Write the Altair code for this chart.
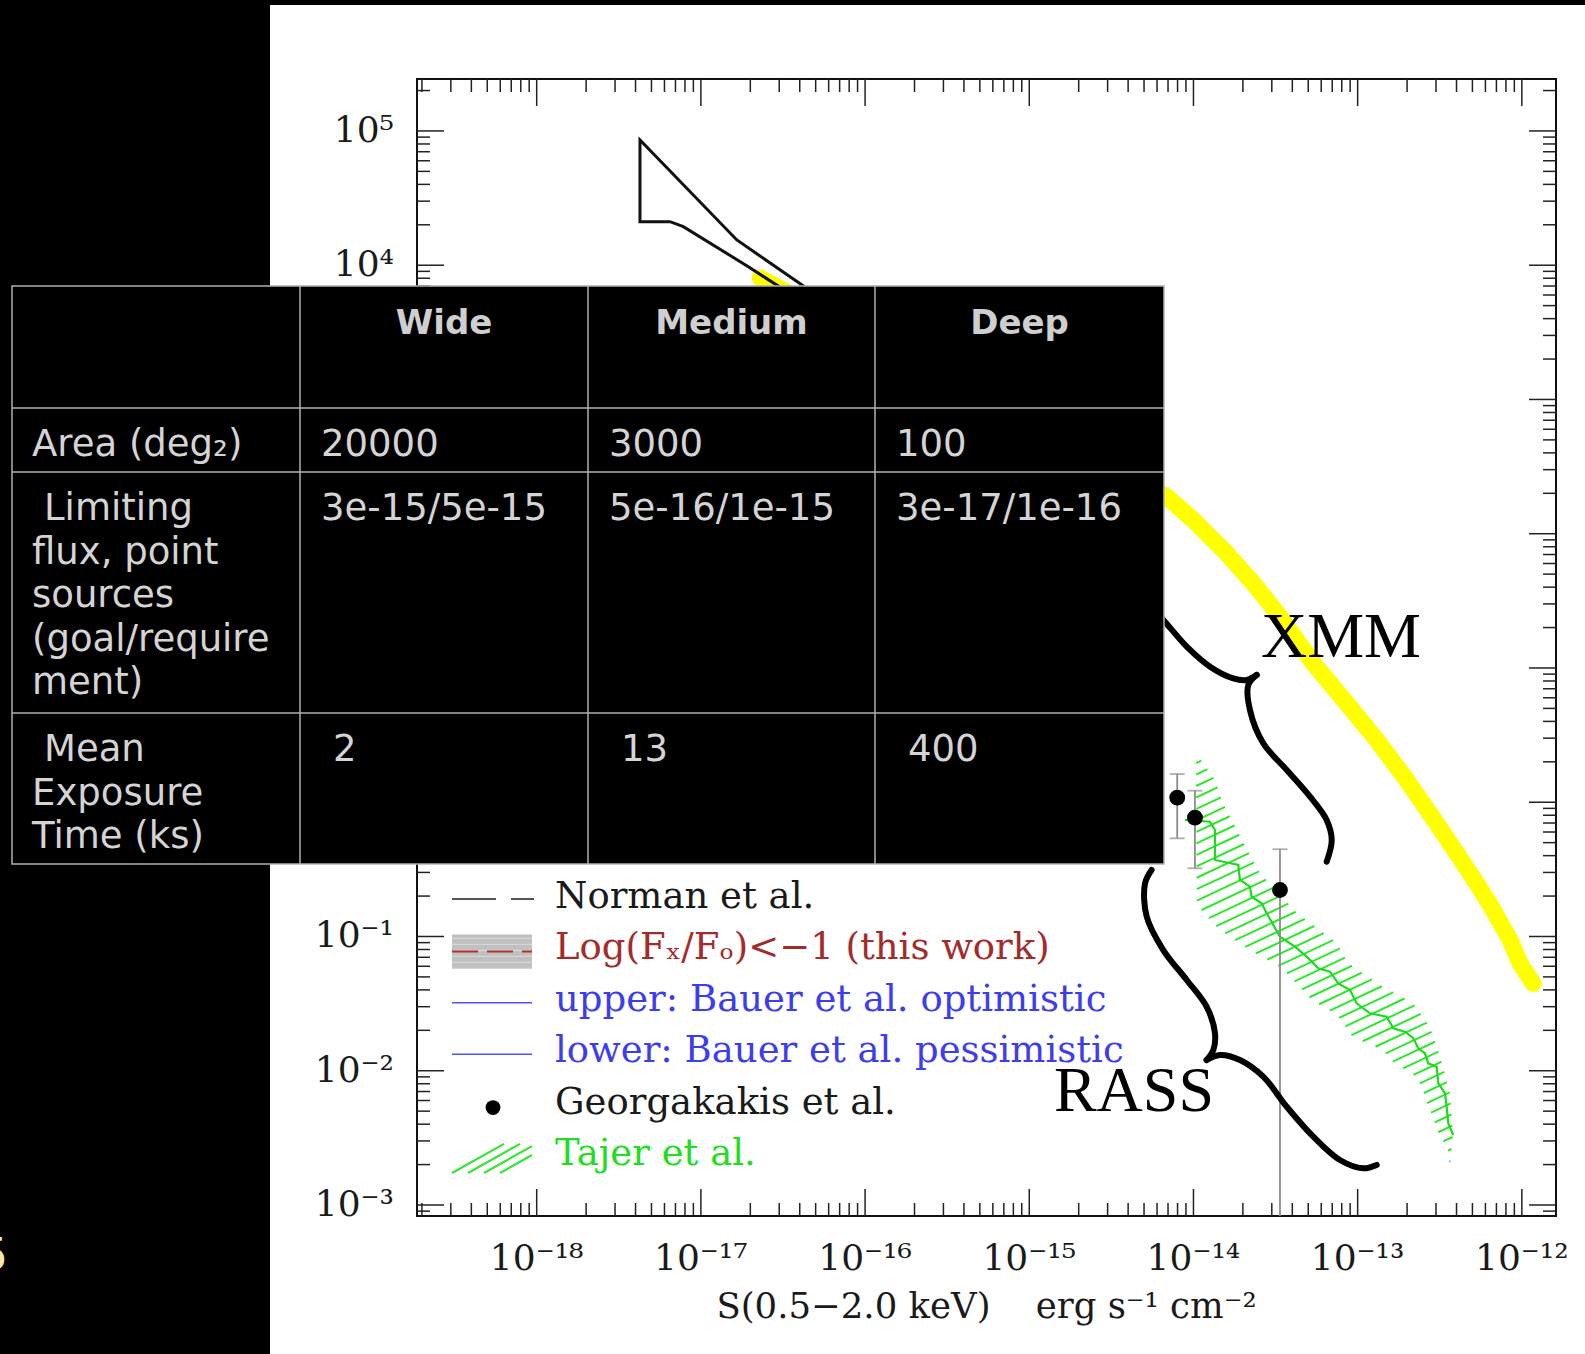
import altair as alt
import pandas as pd

# ------------------------------------------------------------------ layout
PLOT_W, PLOT_H = 1139, 1137
PAD_LEFT, PAD_TOP, PAD_RIGHT, PAD_BOTTOM = 417, 79, 29, 138

LOG_S_DOMAIN = [-18.729, -11.792]
LOG_N_DOMAIN = [-3.082, 5.387]

TICK_COLOR = "#222222"
MAJOR_TICK, MINOR_TICK = 27, 13

SERIF = "DejaVu Serif"
SANS = "DejaVu Sans"

# ------------------------------------------------------------------ axis text
x_tick_exponents = [-18, -17, -16, -15, -14, -13, -12]
x_tick_labels = ["10⁻¹⁸", "10⁻¹⁷", "10⁻¹⁶", "10⁻¹⁵", "10⁻¹⁴", "10⁻¹³", "10⁻¹²"]
y_tick_exponents = [-3, -2, -1, 0, 1, 2, 3, 4, 5]
y_tick_labels = ["10⁻³", "10⁻²", "10⁻¹", "10⁰", "10¹", "10²", "10³", "10⁴", "10⁵"]
x_title = "S(0.5−2.0 keV)    erg s⁻¹ cm⁻²"

# ------------------------------------------------------------------ series (log10 S, log10 N)
norman_log_s = [-16.092, -16.384, -16.664, -16.781, -17.371, -17.371, -17.188, -17.107, -16.711, -16.618, -16.396]
norman_log_n = [3.592, 3.853, 4.089, 4.188, 4.933, 4.324, 4.324, 4.287, 3.989, 3.915, 3.741]

xmm_log_s = [-16.639, -14.163, -14.001, -13.798, -13.636, -13.473, -13.270, -13.067, -12.884,
             -12.702, -12.519, -12.377, -12.275, -12.174, -12.072, -12.011, -11.931]
xmm_log_n = [3.905, 2.276, 2.102, 1.854, 1.631, 1.382, 1.035, 0.737, 0.464,
             0.166, -0.157, -0.415, -0.604, -0.803, -1.026, -1.200, -1.349]

tajer_upper_s = [-13.985, -13.869, -13.820, -13.705, -13.595, -13.370, -13.126, -13.059,
                 -12.846, -12.663, -12.560, -12.511, -12.480, -12.438, -12.420, -12.438]
tajer_upper_n = [0.367, 0.166, -0.006, -0.281, -0.527, -0.825, -1.048, -1.197,
                 -1.376, -1.495, -1.674, -1.845, -1.972, -2.166, -2.464, -2.717]
tajer_lower_s = [-13.985, -13.979, -13.839, -13.656, -13.461, -13.278, -13.126, -13.029, -12.846,
                 -12.785, -12.639, -12.602, -12.578, -12.541, -12.517, -12.450, -12.438]
tajer_lower_n = [0.367, -0.765, -0.952, -1.101, -1.235, -1.473, -1.585, -1.749, -1.845,
                 -1.935, -2.047, -2.143, -2.240, -2.345, -2.441, -2.590, -2.717]
tajer_mid_s = [-14.052, -13.900, -13.869, -13.869, -13.727, -13.717, -13.656, -13.646, -13.585,
               -13.554, -13.473, -13.382, -13.311, -13.240, -13.169, -13.118, -13.047, -13.006,
               -12.925, -12.823, -12.783, -12.712, -12.661, -12.631, -12.590, -12.570, -12.519,
               -12.509, -12.468, -12.458, -12.448, -12.418]
tajer_mid_n = [-0.132, -0.145, -0.207, -0.430, -0.467, -0.579, -0.629, -0.704, -0.753,
               -0.827, -1.002, -1.076, -1.150, -1.237, -1.262, -1.349, -1.399, -1.498,
               -1.572, -1.597, -1.684, -1.709, -1.758, -1.833, -1.870, -1.945, -1.970,
               -2.094, -2.168, -2.268, -2.392, -2.479]

geo_log_s = [-14.099, -13.991, -13.473]
geo_log_n = [0.034, -0.115, -0.654]
geo_log_lo = [-0.269, -0.492, -3.6]
geo_log_hi = [0.210, 0.086, -0.350]

# braces: each arm runs to the shared tip
xmm_arm1_s = [-14.265, -14.174, -14.041, -13.899, -13.758, -13.676, -13.615]
xmm_arm1_n = [1.469, 1.345, 1.159, 1.010, 0.923, 0.911, 0.948]
xmm_arm2_s = [-13.615, -13.666, -13.656, -13.575, -13.432, -13.290, -13.189, -13.158, -13.189]
xmm_arm2_n = [0.948, 0.873, 0.687, 0.439, 0.240, 0.041, -0.132, -0.281, -0.443]
rass_arm1_s = [-14.255, -14.295, -14.285, -14.184, -14.041, -13.920, -13.869, -13.879, -13.920]
rass_arm1_n = [-0.505, -0.604, -0.852, -1.101, -1.324, -1.523, -1.721, -1.845, -1.920]
rass_arm2_s = [-13.920, -13.839, -13.717, -13.575, -13.432, -13.270, -13.108, -12.966, -12.884]
rass_arm2_n = [-1.920, -1.883, -1.920, -2.044, -2.268, -2.491, -2.665, -2.727, -2.702]

survey_labels = ["XMM", "RASS"]
survey_log_s = [-13.589, -14.850]
survey_log_n = [1.082, -2.300]

legend_labels = ["Norman et al.", "Log(Fₓ/Fₒ)<−1 (this work)", "upper: Bauer et al. optimistic",
                 "lower: Bauer et al. pessimistic", "Georgakakis et al.", "Tajer et al."]
legend_colors = ["#1a1a1a", "#a52a2a", "#3c3cf0", "#3c3cf0", "#1a1a1a", "#22dd22"]

# ------------------------------------------------------------------ survey table
table_header = ["", "Wide", "Medium", "Deep"]
table_row_labels = ["Area (deg₂)",
                    " Limiting\nflux, point\nsources\n(goal/require\nment)",
                    " Mean\nExposure\nTime (ks)"]
table_wide = ["20000", "3e-15/5e-15", " 2"]
table_medium = ["3000", "5e-16/1e-15", " 13"]
table_deep = ["100", "3e-17/1e-16", " 400"]

TABLE_COLS = [-405, -117, 171, 458, 747]
TABLE_ROWS = [207, 329, 393, 634, 785]
TABLE_TEXT_PAD, TABLE_BASELINE, TABLE_LINE_H, TABLE_INDENT = 21, 48, 43.6, 12
TABLE_LINE = "#b0b0b0"
TABLE_TEXT = "#d4d4d4"

# ------------------------------------------------------------------ helpers
x_scale = alt.Scale(type="log", domain=[10.0 ** d for d in LOG_S_DOMAIN], nice=False)
y_scale = alt.Scale(type="log", domain=[10.0 ** d for d in LOG_N_DOMAIN], nice=False)
PX_PER_DEC_S = PLOT_W / (LOG_S_DOMAIN[1] - LOG_S_DOMAIN[0])
PX_PER_DEC_N = PLOT_H / (LOG_N_DOMAIN[1] - LOG_N_DOMAIN[0])


def sx(field):
    return alt.X(f"{field}:Q", scale=x_scale, axis=None)


def ny(field):
    return alt.Y(f"{field}:Q", scale=y_scale, axis=None)


def px(field):
    return alt.X(f"{field}:Q", scale=None, axis=None)


def py(field):
    return alt.Y(f"{field}:Q", scale=None, axis=None)


def path_df(log_s, log_n):
    return pd.DataFrame({"S": [10.0 ** v for v in log_s],
                         "N": [10.0 ** v for v in log_n],
                         "i": list(range(len(log_s)))})


def hatch(upper_s, upper_n, lower_s, lower_n, slope=0.47, step=11.5):
    """Clip a family of parallel screen-space lines to the band outline."""
    poly = [(s * PX_PER_DEC_S, n * PX_PER_DEC_N) for s, n in zip(upper_s, upper_n)]
    poly += [(s * PX_PER_DEC_S, n * PX_PER_DEC_N)
             for s, n in zip(reversed(lower_s[1:-1]), reversed(lower_n[1:-1]))]
    offs = [v - slope * u for u, v in poly]
    rows = []
    c = min(offs) + step / 2
    while c < max(offs):
        cuts = []
        for k in range(len(poly)):
            (u1, v1), (u2, v2) = poly[k], poly[(k + 1) % len(poly)]
            f1, f2 = v1 - slope * u1 - c, v2 - slope * u2 - c
            if (f1 < 0) != (f2 < 0):
                t = f1 / (f1 - f2)
                cuts.append(u1 + t * (u2 - u1))
        cuts.sort()
        for a, b in zip(cuts[0::2], cuts[1::2]):
            rows.append({"S1": 10.0 ** (a / PX_PER_DEC_S),
                         "N1": 10.0 ** ((slope * a + c) / PX_PER_DEC_N),
                         "S2": 10.0 ** (b / PX_PER_DEC_S),
                         "N2": 10.0 ** ((slope * b + c) / PX_PER_DEC_N)})
        c += step
    return pd.DataFrame(rows)


def minor_values(lo, hi):
    vals = []
    for e in range(int(lo) - 1, int(hi) + 1):
        for m in range(2, 10):
            v = m * 10.0 ** e
            if 10.0 ** lo < v < 10.0 ** hi:
                vals.append(v)
    return vals


layers = []

# XMM counts (thick yellow)
layers.append(alt.Chart(path_df(xmm_log_s, xmm_log_n)).mark_line(
    color="#ffff00", strokeWidth=17, strokeCap="round", strokeJoin="round"
).encode(x=sx("S"), y=ny("N"), order="i:Q"))

# Norman et al. envelope
layers.append(alt.Chart(path_df(norman_log_s, norman_log_n)).mark_line(
    color="#111111", strokeWidth=3, strokeJoin="miter"
).encode(x=sx("S"), y=ny("N"), order="i:Q"))

# Tajer et al. hatched band and its stepped centre line
layers.append(alt.Chart(hatch(tajer_upper_s, tajer_upper_n, tajer_lower_s, tajer_lower_n)).mark_rule(
    color="#2ee82e", strokeWidth=2
).encode(x=sx("S1"), y=ny("N1"), x2="S2", y2="N2"))
layers.append(alt.Chart(path_df(tajer_mid_s, tajer_mid_n)).mark_line(
    color="#1fd81f", strokeWidth=2.2
).encode(x=sx("S"), y=ny("N"), order="i:Q"))

# Georgakakis et al. points with error bars
geo_df = pd.DataFrame({"S": [10.0 ** v for v in geo_log_s],
                       "N": [10.0 ** v for v in geo_log_n],
                       "lo": [10.0 ** v for v in geo_log_lo],
                       "hi": [10.0 ** v for v in geo_log_hi]})
caps_df = pd.DataFrame({"S": list(geo_df["S"]) * 2, "N": list(geo_df["lo"]) + list(geo_df["hi"])})
layers.append(alt.Chart(geo_df).mark_rule(color="#8c8c8c", strokeWidth=1.8, clip=True)
              .encode(x=sx("S"), y=ny("lo"), y2="hi"))
layers.append(alt.Chart(caps_df).mark_tick(orient="horizontal", size=15, thickness=1.8,
                                           color="#8c8c8c", clip=True)
              .encode(x=sx("S"), y=ny("N")))
layers.append(alt.Chart(geo_df).mark_point(filled=True, size=250, color="black", opacity=1)
              .encode(x=sx("S"), y=ny("N")))

# hand-drawn braces and survey names
brace_df = pd.concat([path_df(xmm_arm1_s, xmm_arm1_n).assign(arm="xmm1"),
                      path_df(xmm_arm2_s, xmm_arm2_n).assign(arm="xmm2"),
                      path_df(rass_arm1_s, rass_arm1_n).assign(arm="rass1"),
                      path_df(rass_arm2_s, rass_arm2_n).assign(arm="rass2")])
layers.append(alt.Chart(brace_df).mark_line(
    color="black", strokeWidth=6, strokeCap="round", strokeJoin="round", interpolate="catmull-rom"
).encode(x=sx("S"), y=ny("N"), detail="arm:N", order="i:Q"))
survey_df = pd.DataFrame({"S": [10.0 ** v for v in survey_log_s],
                          "N": [10.0 ** v for v in survey_log_n],
                          "label": survey_labels})
layers.append(alt.Chart(survey_df).mark_text(
    font="Liberation Serif", fontSize=64, align="left", baseline="alphabetic", color="black"
).encode(x=sx("S"), y=ny("N"), text="label:N"))

# ------------------------------------------------------------------ in-plot legend
LEG_TEXT_X, LEG_Y0, LEG_STEP = 138, 829, 51.4
LEG_SYM_X0, LEG_SYM_X1 = 35, 117
leg_y = [LEG_Y0 + k * LEG_STEP for k in range(len(legend_labels))]
legend_df = pd.DataFrame({"x": [LEG_TEXT_X] * len(legend_labels), "y": leg_y,
                          "label": legend_labels, "c": legend_colors})
layers.append(alt.Chart(legend_df).mark_text(
    font=SERIF, fontSize=37, align="left", baseline="alphabetic"
).encode(x=px("x"), y=py("y"), text="label:N", color=alt.Color("c:N", scale=None)))

one = pd.DataFrame({"k": [0]})
# Norman: long-short dash
layers.append(alt.Chart(one).mark_rule(color="#555555", strokeWidth=1.8, strokeDash=[44, 15]).encode(
    x=alt.value(LEG_SYM_X0), x2=alt.value(LEG_SYM_X1), y=alt.value(leg_y[0] - 9)))
# Log(Fx/Fo): grey band with red dashed line
layers.append(alt.Chart(one).mark_rect(color="#c0c0c0").encode(
    x=alt.value(LEG_SYM_X0), x2=alt.value(LEG_SYM_X1 - 2),
    y=alt.value(leg_y[1] - 25), y2=alt.value(leg_y[1] + 9)))
stripe_df = pd.DataFrame({"y": [leg_y[1] - 21 + 6 * k for k in range(6)]})
layers.append(alt.Chart(stripe_df).mark_rule(color="#d6d6d6", strokeWidth=1.2).encode(
    x=alt.value(LEG_SYM_X0), x2=alt.value(LEG_SYM_X1 - 2), y=py("y")))
layers.append(alt.Chart(one).mark_rule(color="#b03030", strokeWidth=2, strokeDash=[26, 9]).encode(
    x=alt.value(LEG_SYM_X0), x2=alt.value(LEG_SYM_X1 - 2), y=alt.value(leg_y[1] - 8)))
# Bauer et al.: plain blue lines
for k in (2, 3):
    layers.append(alt.Chart(one).mark_rule(color="#5050ff", strokeWidth=1.6).encode(
        x=alt.value(LEG_SYM_X0), x2=alt.value(LEG_SYM_X1 - 2), y=alt.value(leg_y[k] - 8)))
# Georgakakis: filled dot
layers.append(alt.Chart(one).mark_point(filled=True, size=220, color="black", opacity=1).encode(
    x=alt.value((LEG_SYM_X0 + LEG_SYM_X1) / 2), y=alt.value(leg_y[4] - 6)))
# Tajer: hatch swatch
swatch = pd.DataFrame({"x": [LEG_SYM_X0 + 16 * k for k in range(4)],
                       "y": [leg_y[5] + 8] * 4})
swatch["x2"] = (swatch["x"] + 52).clip(upper=LEG_SYM_X1 - 2)
swatch["y2"] = swatch["y"] - (swatch["x2"] - swatch["x"]) * 0.56
layers.append(alt.Chart(swatch).mark_rule(color="#33e633", strokeWidth=2.2).encode(
    x=px("x"), y=py("y"), x2="x2", y2="y2"))

# ------------------------------------------------------------------ inward frame ticks
x_major = pd.DataFrame({"v": [10.0 ** e for e in x_tick_exponents], "label": x_tick_labels})
x_minor = pd.DataFrame({"v": minor_values(*LOG_S_DOMAIN)})
y_major = pd.DataFrame({"v": [10.0 ** e for e in y_tick_exponents], "label": y_tick_labels})
y_minor = pd.DataFrame({"v": minor_values(*LOG_N_DOMAIN)})
for df, size in ((x_major, MAJOR_TICK), (x_minor, MINOR_TICK)):
    layers.append(alt.Chart(df).mark_rule(color=TICK_COLOR, strokeWidth=1.5).encode(
        x=sx("v"), y=alt.value(PLOT_H), y2=alt.value(PLOT_H - size)))
    layers.append(alt.Chart(df).mark_rule(color=TICK_COLOR, strokeWidth=1.5).encode(
        x=sx("v"), y=alt.value(0), y2=alt.value(size)))
for df, size in ((y_major, MAJOR_TICK), (y_minor, MINOR_TICK)):
    layers.append(alt.Chart(df).mark_rule(color=TICK_COLOR, strokeWidth=1.5).encode(
        y=ny("v"), x=alt.value(0), x2=alt.value(size)))
    layers.append(alt.Chart(df).mark_rule(color=TICK_COLOR, strokeWidth=1.5).encode(
        y=ny("v"), x=alt.value(PLOT_W), x2=alt.value(PLOT_W - size)))

# tick labels and axis title
layers.append(alt.Chart(x_major).mark_text(
    font=SERIF, fontSize=36, color="#1a1a1a", align="center", baseline="alphabetic"
).encode(x=sx("v"), y=alt.value(PLOT_H + 54), text="label:N"))
layers.append(alt.Chart(y_major).mark_text(
    font=SERIF, fontSize=36, color="#1a1a1a", align="right", baseline="middle"
).encode(x=alt.value(-23), y=ny("v"), text="label:N"))
layers.append(alt.Chart(pd.DataFrame({"t": [x_title.replace("    ", "\u00a0\u00a0\u00a0\u00a0")]}))
              .mark_text(font=SERIF, fontSize=35.5, color="#1a1a1a", align="center", baseline="alphabetic")
              .encode(x=alt.value(PLOT_W / 2), y=alt.value(PLOT_H + 102), text="t:N"))

# ------------------------------------------------------------------ slide furniture
slide_df = pd.DataFrame({
    "x": [-PAD_LEFT, -PAD_LEFT],
    "x2": [-147, PLOT_W + PAD_RIGHT],
    "y": [-PAD_TOP, -PAD_TOP],
    "y2": [PLOT_H + PAD_BOTTOM, -74],
})
layers.append(alt.Chart(slide_df).mark_rect(color="black").encode(
    x=px("x"), x2="x2", y=py("y"), y2="y2"))
layers.append(alt.Chart(pd.DataFrame({"x": [-409], "y": [1191], "t": ["5"]})).mark_text(
    font=SANS, fontSize=44, color="#f0ecb0", align="right", baseline="alphabetic"
).encode(x=px("x"), y=py("y"), text="t:N"))

# table body
table_box = pd.DataFrame({"x": [TABLE_COLS[0]], "x2": [TABLE_COLS[-1]],
                          "y": [TABLE_ROWS[0]], "y2": [TABLE_ROWS[-1]]})
layers.append(alt.Chart(table_box).mark_rect(color="black", stroke=TABLE_LINE, strokeWidth=1.5).encode(
    x=px("x"), x2="x2", y=py("y"), y2="y2"))
grid_rows = ([{"x": c, "x2": c, "y": TABLE_ROWS[0], "y2": TABLE_ROWS[-1]} for c in TABLE_COLS[1:-1]]
             + [{"x": TABLE_COLS[0], "x2": TABLE_COLS[-1], "y": r, "y2": r} for r in TABLE_ROWS[1:-1]])
layers.append(alt.Chart(pd.DataFrame(grid_rows)).mark_rule(color=TABLE_LINE, strokeWidth=1.5).encode(
    x=px("x"), x2="x2", y=py("y"), y2="y2"))

header_df = pd.DataFrame({
    "x": [(TABLE_COLS[c] + TABLE_COLS[c + 1]) / 2 for c in range(4)],
    "y": [TABLE_ROWS[0] + TABLE_BASELINE] * 4,
    "t": table_header,
})
layers.append(alt.Chart(header_df).mark_text(
    font=SANS, fontSize=34, fontWeight="bold", color="#cfcfcf", align="center", baseline="alphabetic"
).encode(x=px("x"), y=py("y"), text="t:N"))

cells = []
for r, row in enumerate(zip(table_row_labels, table_wide, table_medium, table_deep)):
    for c, text in enumerate(row):
        pad = TABLE_TEXT_PAD - 1 if c == 0 else TABLE_TEXT_PAD
        for k, line in enumerate(text.split("\n")):
            indent = TABLE_INDENT if line.startswith(" ") else 0
            cells.append({"x": TABLE_COLS[c] + pad + indent,
                          "y": TABLE_ROWS[r + 1] + TABLE_BASELINE + k * TABLE_LINE_H,
                          "t": line.strip()})
layers.append(alt.Chart(pd.DataFrame(cells)).mark_text(
    font=SANS, fontSize=37, color=TABLE_TEXT, align="left", baseline="alphabetic"
).encode(x=px("x"), y=py("y"), text="t:N"))

chart = alt.layer(*layers).properties(
    width=PLOT_W,
    height=PLOT_H,
    padding={"left": PAD_LEFT, "top": PAD_TOP, "right": PAD_RIGHT, "bottom": PAD_BOTTOM},
    autosize=alt.AutoSizeParams(type="none"),
    background="white",
).configure_view(stroke="#111111", strokeWidth=2)

chart.save("out.html", embed_options={"renderer": "svg", "actions": False})
